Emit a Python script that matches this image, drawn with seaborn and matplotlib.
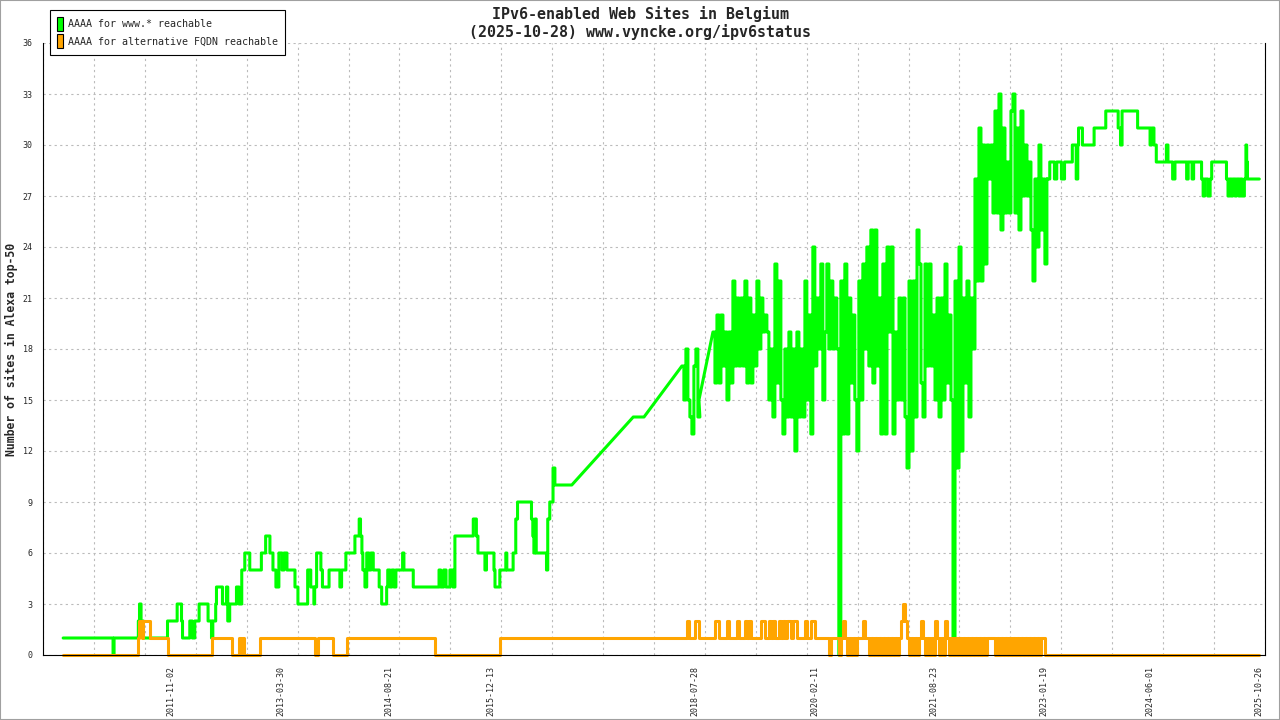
import numpy as np
import pandas as pd
import matplotlib
matplotlib.use("Agg")
import matplotlib.pyplot as plt
import matplotlib.dates as mdates
from matplotlib.patches import Patch, Rectangle
from matplotlib.ticker import FixedLocator
import seaborn as sns

# ---------------------------------------------------------
# Data: time in decimal years, value = number of sites
# ---------------------------------------------------------
www_label = "AAAA for www.* reachable"
alt_label = "AAAA for alternative FQDN reachable"
green = "#00ff00"
orange = "#ffa500"

last_day = 2025.822          # 2025-10-28
sample_days = 9.39           # spacing of the dense (daily-ish) samples

# www.* : change points, value held until the next change
www_early_years = [
    2010.448, 2011.090, 2011.103, 2011.415, 2011.430, 2011.450, 2011.480,
    2011.790, 2011.914, 2011.970, 2011.983, 2012.077, 2012.109, 2012.141,
    2012.197, 2012.312, 2012.356, 2012.373, 2012.410, 2012.420, 2012.497,
    2012.548, 2012.565, 2012.590, 2012.677, 2012.710, 2012.745, 2012.784,
    2012.848, 2012.997, 2013.050, 2013.105, 2013.144, 2013.182, 2013.220,
    2013.260, 2013.286, 2013.324, 2013.427, 2013.465, 2013.590, 2013.630,
    2013.670, 2013.680, 2013.705, 2013.760, 2013.780, 2013.865, 2014.005,
    2014.027, 2014.082, 2014.198, 2014.253, 2014.270, 2014.288, 2014.300,
    2014.327, 2014.350, 2014.378, 2014.404, 2014.434, 2014.510, 2014.542,
    2014.606, 2014.620, 2014.648, 2014.673, 2014.700, 2014.725, 2014.811,
    2014.828, 2014.948, 2015.280, 2015.302, 2015.340, 2015.370, 2015.420,
    2015.458, 2015.484, 2015.720, 2015.760, 2015.780, 2015.870, 2015.890,
    2015.986, 2016.000, 2016.062, 2016.139, 2016.152, 2016.233, 2016.267,
    2016.290, 2016.469, 2016.486, 2016.500, 2016.515, 2016.530, 2016.662,
    2016.678, 2016.704, 2016.746, 2016.770,
]
www_early_values = [
    1, 0, 1, 2, 3, 2, 1,
    2, 3, 2, 1, 2, 1, 2,
    3, 2, 1, 2, 3, 4, 3,
    4, 2, 3, 4, 3, 5, 6,
    5, 6, 7, 6, 5, 4, 6,
    5, 6, 5, 4, 3, 5, 4,
    3, 4, 6, 5, 4, 5, 4,
    5, 6, 7, 8, 7, 6, 5,
    4, 6, 5, 6, 5, 4, 3,
    4, 5, 4, 5, 4, 5, 6,
    5, 4, 5, 4, 5, 4, 5,
    4, 7, 8, 7, 6, 5, 6,
    5, 4, 5, 6, 5, 6, 8,
    9, 8, 7, 6, 8, 6, 5,
    8, 9, 11, 10,
]

# sparse measurements 2017-2018 (straight connecting segments)
www_trend_years = [2016.987, 2017.775, 2017.913]
www_trend_values = [10, 14, 14]

www_noise_a_start = 2018.401
www_noise_a = [17, 15, 18, 15, 14, 13, 17, 18, 14]

www_trend2_years = [2018.620]
www_trend2_values = [15]

www_noise_b_start = 2018.800
www_noise_b = [
    19, 16, 20, 16, 20, 17, 19, 15, 19, 16,
    22, 17, 21, 17, 21, 17, 22, 16, 21, 16,
    20, 17, 22, 18, 21, 19, 20, 19, 15, 18,
    14, 23, 16, 22, 15, 13, 18, 14, 19, 14,
    18, 12, 19, 14, 18, 14, 22, 15, 20, 13,
    24, 17, 21, 18, 23, 15, 19, 23, 18, 22,
    18, 21, 18, 0, 22, 13, 23, 13, 21, 16,
    20, 15, 12, 22, 15, 23, 18, 24, 17, 25,
    16, 25, 17, 21, 13, 23, 13, 24, 19, 24,
    13, 19, 15, 21, 15, 21, 14, 11, 22, 12,
    22, 14, 25, 23, 16, 14, 23, 17, 23, 17,
    20, 15, 21, 14, 21, 15, 23, 16, 20, 15,
    0, 22, 11, 24, 12, 21, 16, 22, 14, 21,
    18, 28, 22, 31, 22, 30, 23, 30, 28, 30,
    26, 32, 26, 33, 25, 31, 26, 29, 26, 32,
    33, 26, 31, 25, 32, 27, 30, 27, 29, 25,
    22, 28, 24, 30, 25, 28, 23, 28,
]

www_late_years = [
    2023.093, 2023.130, 2023.190, 2023.220, 2023.280, 2023.320, 2023.420,
    2023.470, 2023.490, 2023.500, 2023.550, 2023.700, 2023.850, 2024.010,
    2024.040, 2024.060, 2024.260, 2024.420, 2024.440, 2024.470, 2024.500,
    2024.630, 2024.650, 2024.710, 2024.740, 2024.890, 2024.910, 2024.960,
    2024.980, 2025.080, 2025.100, 2025.120, 2025.160, 2025.190, 2025.210,
    2025.400, 2025.420, 2025.440, 2025.460, 2025.480, 2025.510, 2025.530,
    2025.560, 2025.580, 2025.600, 2025.630, 2025.650, 2025.660, 2025.670,
]
www_late_values = [
    28, 29, 28, 29, 28, 29, 30,
    28, 30, 31, 30, 31, 32, 31,
    30, 32, 31, 30, 31, 30, 29,
    30, 29, 28, 29, 28, 29, 28,
    29, 28, 27, 28, 27, 28, 29,
    28, 27, 28, 27, 28, 27, 28,
    27, 28, 27, 28, 30, 29, 28,
]

# alternative FQDN
alt_early_years = [
    2010.448, 2011.405, 2011.422, 2011.456, 2011.477, 2011.563, 2011.798,
    2012.364, 2012.626, 2012.707, 2012.730, 2012.745, 2012.773, 2012.985,
    2013.690, 2013.720, 2013.920, 2014.090, 2015.226, 2016.062,
]
alt_early_values = [
    0, 1, 2, 1, 2, 1, 0,
    1, 0, 1, 0, 1, 0, 1,
    0, 1, 0, 1, 0, 1,
]

alt_noise_start = 2018.414
alt_noise = [
    1, 1, 2, 1, 1, 1, 2, 2, 1, 1,
    1, 1, 1, 1, 1, 1, 2, 2, 1, 1,
    1, 1, 2, 1, 1, 1, 1, 2, 1, 1,
    1, 2, 1, 2, 1, 1, 1, 1, 1, 2,
    2, 1, 1, 2, 1, 2, 1, 1, 2, 1,
    2, 1, 2, 2, 1, 2, 2, 1, 1, 1,
    1, 2, 1, 1, 2, 2, 1, 1, 1, 1,
    1, 1, 1, 0, 1, 1, 1, 1, 0, 1,
    2, 1, 0, 1, 0, 1, 0, 1, 1, 1,
    2, 1, 1, 0, 1, 0, 1, 0, 1, 0,
    1, 0, 1, 0, 1, 0, 1, 0, 1, 2,
    3, 2, 1, 0, 1, 0, 1, 0, 1, 2,
    1, 0, 1, 0, 1, 0, 2, 1, 0, 1,
    0, 2, 1, 0, 1, 0, 1, 0, 1, 0,
    1, 0, 1, 0, 1, 0, 1, 0, 1, 0,
    1, 0, 1, 1, 1, 1, 0, 1, 0, 1,
    0, 1, 0, 1, 0, 1, 0, 1, 0, 1,
    0, 1, 0, 1, 0, 1, 0, 1, 0, 1,
    1, 0,
]

label_dates = [
    "2011-11-02", "2013-03-30", "2014-08-21", "2015-12-13", "2018-07-28",
    "2020-02-11", "2021-08-23", "2023-01-19", "2024-06-01", "2025-10-26",
]


def year_to_date(years):
    years = np.asarray(years, dtype=float)
    whole = np.floor(years).astype(int)
    starts = pd.to_datetime([f"{w}-01-01" for w in whole])
    return starts + pd.to_timedelta((years - whole) * 365.25, unit="D")


def hold_steps(years, values, until):
    """Each value is kept until the next change point."""
    xs, ys = [], []
    for i, v in enumerate(values):
        nxt = years[i + 1] if i + 1 < len(years) else until
        xs += [years[i], nxt]
        ys += [v, v]
    return xs, ys


def sampled(start, values):
    """Regularly spaced samples, each one held for one sample period."""
    dt = sample_days / 365.25
    years = [start + k * dt for k in range(len(values))]
    return hold_steps(years, values, years[-1] + dt)


def build_www():
    parts = [
        hold_steps(www_early_years, www_early_values, www_trend_years[0]),
        (www_trend_years, www_trend_values),
        sampled(www_noise_a_start, www_noise_a),
        (www_trend2_years, www_trend2_values),
        sampled(www_noise_b_start, www_noise_b),
        hold_steps(www_late_years, www_late_values, last_day),
    ]
    xs = [x for p in parts for x in p[0]]
    ys = [y for p in parts for y in p[1]]
    return xs, ys


def build_alt():
    parts = [
        hold_steps(alt_early_years, alt_early_values, alt_noise_start),
        sampled(alt_noise_start, alt_noise),
        ([last_day], [0]),
    ]
    xs = [x for p in parts for x in p[0]]
    ys = [y for p in parts for y in p[1]]
    return xs, ys


wx, wy = build_www()
ax_, ay = build_alt()
df = pd.concat([
    pd.DataFrame({"date": year_to_date(wx), "sites": wy, "series": www_label}),
    pd.DataFrame({"date": year_to_date(ax_), "sites": ay, "series": alt_label}),
], ignore_index=True)

# ---------------------------------------------------------
# Plot
# ---------------------------------------------------------
sns.set_style("white")
plt.rcParams["font.family"] = ["DejaVu Sans Mono"]

fig = plt.figure(figsize=(12.8, 7.2), dpi=100)
ax = fig.add_axes([43 / 1280, 65 / 720, 1222 / 1280, 612 / 720])

sns.lineplot(data=df, x="date", y="sites", hue="series",
             hue_order=[www_label, alt_label], palette=[green, orange],
             estimator=None, sort=False, linewidth=2.2, legend=False,
             clip_on=False, ax=ax)

ax.set_xlim(pd.Timestamp("2010-03-11"), pd.Timestamp("2025-11-24"))
ax.set_ylim(0, 36)
ax.set_yticks(range(0, 37, 3))

x0, x1 = ax.get_xlim()
ax.xaxis.set_minor_locator(FixedLocator(np.linspace(x0, x1, 25)))
ax.set_xticks(mdates.date2num(pd.to_datetime(label_dates)))
ax.set_xticklabels(label_dates, rotation=90)

ax.tick_params(axis="x", which="major", length=0, pad=8, labelsize=6)
ax.tick_params(axis="x", which="minor", direction="inout", length=6, width=0.8)
ax.tick_params(axis="y", direction="inout", length=7, width=0.8, pad=4, labelsize=6)

grid_kw = dict(color="#bbbbbb", linestyle=(0, (2, 3)), linewidth=0.8)
ax.grid(False)
ax.grid(axis="x", which="minor", **grid_kw)
ax.grid(axis="y", which="major", **grid_kw)
ax.set_axisbelow(True)

for side in ["left", "bottom", "right"]:
    ax.spines[side].set_color("black")
    ax.spines[side].set_linewidth(0.8)
ax.spines["top"].set_visible(False)

ax.set_xlabel("")
ax.set_ylabel("Number of sites in Alexa top-50", fontsize=8.3, fontweight="bold")
ax.yaxis.set_label_coords(-0.0205, 0.5)

fig.text(0.5, 1 - 13.5 / 720, "IPv6-enabled Web Sites in Belgium",
         ha="center", va="center", fontsize=10.8, fontweight="bold")
fig.text(0.5, 1 - 32.5 / 720, "(2025-10-28) www.vyncke.org/ipv6status",
         ha="center", va="center", fontsize=10.8, fontweight="bold")

handles = [Patch(facecolor=green, edgecolor="black", linewidth=0.8, label=www_label),
           Patch(facecolor=orange, edgecolor="black", linewidth=0.8, label=alt_label)]
leg = fig.legend(handles=handles, loc="upper left",
                 bbox_to_anchor=(50 / 1280, 1 - 10 / 720), borderaxespad=0,
                 fontsize=7.2, frameon=True, fancybox=False, framealpha=1,
                 edgecolor="black", handlelength=0.6, handleheight=1.85,
                 handletextpad=0.5, borderpad=0.7, labelspacing=0.25)
leg.get_frame().set_linewidth(0.8)

fig.patches.append(Rectangle((0, 0), 1, 1, transform=fig.transFigure,
                             fill=False, edgecolor="#a0a0a0", linewidth=1.5))

fig.savefig("out.png", dpi=100)
